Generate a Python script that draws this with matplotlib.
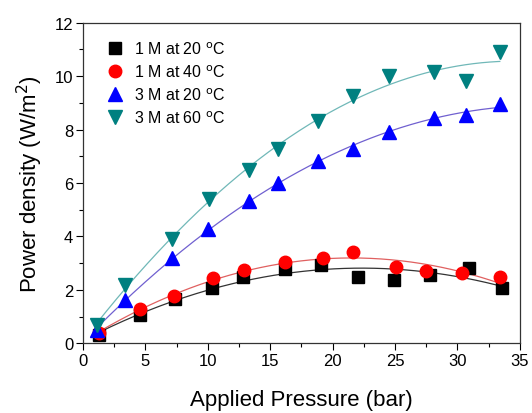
import matplotlib
matplotlib.use("Agg")
import matplotlib.pyplot as plt
import numpy as np
from matplotlib.ticker import MultipleLocator

plt.rcParams["font.family"] = ["Liberation Sans", "DejaVu Sans"]

# values
p_1m20 = [1.3, 4.6, 7.4, 10.3, 12.8, 16.2, 19.1, 22.0, 24.9, 27.8, 30.9, 33.6]
pd_1m20 = [0.31, 1.07, 1.66, 2.09, 2.47, 2.80, 2.94, 2.47, 2.38, 2.57, 2.82, 2.09]

p_1m40 = [1.3, 4.6, 7.3, 10.4, 12.9, 16.2, 19.2, 21.6, 25.1, 27.5, 30.4, 33.4]
pd_1m40 = [0.39, 1.28, 1.78, 2.44, 2.75, 3.05, 3.19, 3.42, 2.85, 2.72, 2.62, 2.47]

p_3m20 = [1.1, 3.4, 7.1, 10.0, 13.3, 15.6, 18.8, 21.6, 24.5, 28.1, 30.7, 33.4]
pd_3m20 = [0.51, 1.63, 3.18, 4.28, 5.34, 6.00, 6.83, 7.27, 7.92, 8.42, 8.55, 8.95]

p_3m60 = [1.1, 3.4, 7.1, 10.1, 13.3, 15.6, 18.8, 21.6, 24.5, 28.1, 30.7, 33.4]
pd_3m60 = [0.68, 2.18, 3.90, 5.42, 6.49, 7.29, 8.33, 9.24, 9.99, 10.14, 9.82, 10.91]

labels = ["1 M at 20 $^{\\mathrm{o}}$C", "1 M at 40 $^{\\mathrm{o}}$C",
          "3 M at 20 $^{\\mathrm{o}}$C", "3 M at 60 $^{\\mathrm{o}}$C"]

series = [
    (p_1m20, pd_1m20, "s", 8.0, "black", "#333333"),
    (p_1m40, pd_1m40, "o", 9.0, "#ff0000", "#e06060"),
    (p_3m20, pd_3m20, "^", 10.5, "#0000ff", "#7060d0"),
    (p_3m60, pd_3m60, "v", 10.5, "#008080", "#70b8b8"),
]

fig = plt.figure(figsize=(5.32, 4.14), dpi=100)
ax = fig.add_axes([0.156, 0.168, 0.821, 0.775])

for (x, y, mk, ms, col, lcol), lab in zip(series, labels):
    x = np.asarray(x)
    y = np.asarray(y)
    coef = np.polyfit(x, y, 2)
    xs = np.linspace(x.min(), x.max(), 200)
    ax.plot(xs, np.polyval(coef, xs), color=lcol, lw=0.9, zorder=2)
    ax.plot(x, y, ls="none", marker=mk, ms=ms, color=col, mec=col, label=lab, zorder=3)

ax.set_xlim(0, 35)
ax.set_ylim(0, 12)
ax.xaxis.set_major_locator(MultipleLocator(5))
ax.xaxis.set_minor_locator(MultipleLocator(2.5))
ax.yaxis.set_major_locator(MultipleLocator(2))
ax.yaxis.set_minor_locator(MultipleLocator(1))
ax.tick_params(which="major", direction="out", length=5, width=0.8, labelsize=12, pad=2)
ax.tick_params(which="minor", direction="out", length=3, width=0.8)
ax.tick_params(top=False, right=False, which="both")
for s in ax.spines.values():
    s.set_linewidth(0.9)
    s.set_color("#333333")

ax.set_xlabel("Applied Pressure (bar)", fontsize=16, labelpad=15)
ax.set_ylabel("Power density (W/m$^{2}$)", fontsize=16, labelpad=7)

ax.legend(loc="upper left", frameon=False, fontsize=11.5, handletextpad=0.65,
          labelspacing=0.4, borderaxespad=0, borderpad=0.4, handlelength=1.15,
          bbox_to_anchor=(0.037, 0.965))

fig.savefig("out.png", dpi=100, facecolor="white")
